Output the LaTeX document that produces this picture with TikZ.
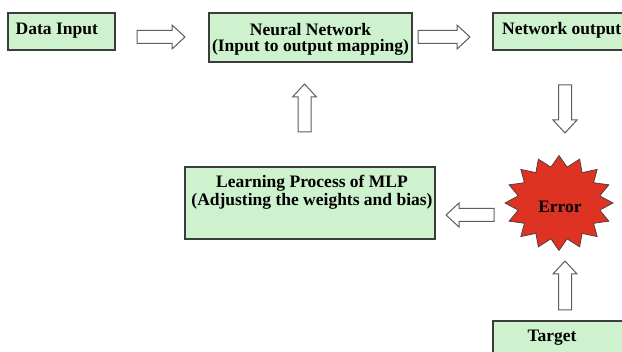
\documentclass[tikz,border=0pt]{standalone}
\usepackage{fontspec}
\setmainfont{Liberation Serif}
\definecolor{boxgreen}{RGB}{205,242,205}
\definecolor{boxedge}{RGB}{60,60,60}
\definecolor{arrowedge}{RGB}{95,95,95}
\definecolor{starred}{RGB}{222,50,35}
\begin{document}
\begin{tikzpicture}[x=1pt,y=-1pt,
  box/.style={draw=boxedge, line width=1.2pt, fill=boxgreen},
  txt/.style={inner sep=0pt, font=\fontsize{17.5}{19}\selectfont\bfseries, align=center},
  arrowline/.style={draw=arrowedge, fill=white, line width=1pt, line join=miter},
  pics/barrow/.style={code={
    \path[arrowline] (0,-6.5) -- (#1-13,-6.5) -- (#1-13,-12) -- (#1,0) -- (#1-13,12) -- (#1-13,6.5) -- (0,6.5) -- cycle;}}
]
\clip (0,0) rectangle (622,352);
\fill[white] (0,0) rectangle (622,352);

% boxes
\path[box] (8,13) rectangle (115,50);
\path[box] (209,13) rectangle (412,62);
\path[box] (493,13) rectangle (640,50);
\path[box] (185,167) rectangle (435,239);
\path[box] (493,321) rectangle (640,370);

% texts
\node[txt, anchor=base west] (data) at (15.5,35) {Data Input};
\node[txt, anchor=base] (nn1) at (310.5,36) {Neural Network};
\node[txt, anchor=base] (nn2) at (310.5,52) {(Input to output mapping)};
\node[txt, anchor=base west] (out) at (502,35) {Network output};
\node[txt, anchor=base] (lp1) at (312,188) {Learning Process of MLP};
\node[txt, anchor=base] (lp2) at (312,206) {(Adjusting the weights and bias)};
\node[txt, anchor=base] (tgt) at (552,342) {Target};

% star
\path[draw=black!75, line width=0.7pt, fill=starred]
  (613,203) \foreach \k in {1,...,31}{
    -- ({559+54*(1-0.23*mod(\k,2))*cos(11.25*\k)}, {203-47.5*(1-0.23*mod(\k,2))*sin(11.25*\k)})
  } -- cycle;
\node[txt, anchor=base] (err) at (560,213) {Error};

% block arrows
\pic at (137,37) {barrow=48};
\pic at (418,37) {barrow=52};
\pic[rotate=-90] at (565,85) {barrow=48};
\pic[rotate=90] at (304.5,132) {barrow=48};
\pic[rotate=180] at (494,215) {barrow=48};
\pic[rotate=90] at (565,310) {barrow=49};
\end{tikzpicture}
\end{document}
